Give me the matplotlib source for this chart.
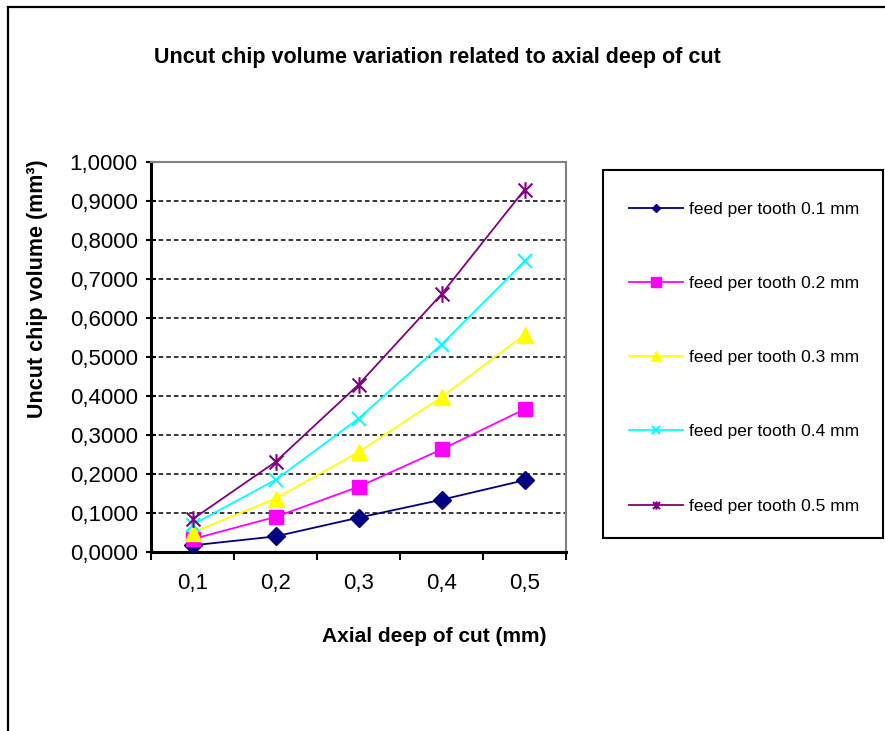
import matplotlib
matplotlib.use('Agg')
import matplotlib.pyplot as plt
from matplotlib.path import Path
from matplotlib.patches import Rectangle

plt.rcParams['font.family'] = ['Liberation Sans', 'DejaVu Sans']

# axial depth of cut (mm) and uncut chip volume (mm3) per feed per tooth
depth_labels = ['0,1', '0,2', '0,3', '0,4', '0,5']
feed_01 = [0.017, 0.040, 0.088, 0.134, 0.184]
feed_02 = [0.033, 0.090, 0.167, 0.263, 0.366]
feed_03 = [0.050, 0.137, 0.256, 0.397, 0.557]
feed_04 = [0.070, 0.185, 0.342, 0.532, 0.745]
feed_05 = [0.084, 0.231, 0.429, 0.661, 0.929]
series_names = ['feed per tooth 0.1 mm', 'feed per tooth 0.2 mm', 'feed per tooth 0.3 mm',
                'feed per tooth 0.4 mm', 'feed per tooth 0.5 mm']
y_ticks = [0.0, 0.1, 0.2, 0.3, 0.4, 0.5, 0.6, 0.7, 0.8, 0.9, 1.0]

# asterisk marker: x plus a vertical stroke
star = Path([(-0.5, -0.5), (0.5, 0.5), (-0.5, 0.5), (0.5, -0.5), (0, -0.6), (0, 0.6)],
            [Path.MOVETO, Path.LINETO, Path.MOVETO, Path.LINETO, Path.MOVETO, Path.LINETO])

W, H = 885, 731
fig = plt.figure(figsize=(W / 100, H / 100), dpi=100)
ax = fig.add_axes([151 / W, 1 - 552 / H, (566 - 151) / W, (552 - 162) / H])

# outer chart frame
fig.patches.append(Rectangle((8 / W, -0.1), 1.2, 1.1 - 7 / H, transform=fig.transFigure,
                             fill=False, edgecolor='black', linewidth=1.6, zorder=0))
# legend frame
fig.patches.append(Rectangle((603 / W, 1 - 538 / H), (883 - 603) / W, (538 - 170) / H,
                             transform=fig.transFigure, fill=False, edgecolor='black',
                             linewidth=1.5, zorder=0))

x = list(range(len(depth_labels)))
styles = [
    dict(color='#000080', marker='D', ms=9.5, lw=1.3, mec='#000080'),
    dict(color='#FF00FF', marker='s', ms=10.5, lw=1.3, mec='#FF00FF'),
    dict(color='#FFFF00', marker='^', ms=12, lw=1.3, mec='#FFFF00'),
    dict(color='#00FFFF', marker='x', ms=10.5, lw=1.3, mew=1.5),
    dict(color='#800080', marker=star, ms=12, lw=1.3, mew=1.5),
]
for vals, name, st in zip([feed_01, feed_02, feed_03, feed_04, feed_05], series_names, styles):
    ax.plot(x, vals, label=name, zorder=3, **st)

ax.set_xlim(-0.5, 4.5)
ax.set_ylim(0, 1.0)

# dashed horizontal gridlines
for yv in y_ticks[1:-1]:
    ax.axhline(yv, color='black', lw=1.1, dashes=(3, 2), zorder=1)

ax.set_yticks(y_ticks)
ax.set_yticklabels([('%.4f' % v).replace('.', ',') for v in y_ticks], fontsize=16)
ax.set_xticks(x)
ax.set_xticklabels(depth_labels, fontsize=16)
ax.set_xticks([i - 0.5 for i in range(len(depth_labels) + 1)], minor=True)
ax.tick_params(axis='x', which='major', length=0, pad=15)
ax.tick_params(axis='x', which='minor', direction='out', length=6, width=1.5)
ax.tick_params(axis='y', direction='inout', length=7, width=1.5, pad=6)

for side in ['left', 'bottom']:
    ax.spines[side].set_linewidth(2.2)
    ax.spines[side].set_color('black')
for side in ['top', 'right']:
    ax.spines[side].set_linewidth(1.5)
    ax.spines[side].set_color('#808080')

fig.text(437 / W, 1 - 57 / H, 'Uncut chip volume variation related to axial deep of cut',
         ha='center', va='center', fontsize=15.5, fontweight='bold')
fig.text(434 / W, 1 - 636 / H, 'Axial deep of cut (mm)', ha='center', va='center',
         fontsize=15, fontweight='bold')
fig.text(38 / W, 1 - 289 / H, 'Uncut chip volume (mm³)', ha='center', va='center',
         rotation=90, fontsize=15.5, fontweight='bold')

leg = ax.legend(loc='upper left', bbox_to_anchor=(601 / W, 1 - 174 / H), bbox_transform=fig.transFigure,
                borderaxespad=0, fontsize=12.5, frameon=False, borderpad=1.6, labelspacing=3.4,
                handlelength=3.1, handletextpad=0.35)
for h, s in zip(leg.legend_handles, [4.5, 6.5, 7, 5.5, 6]):
    h.set_markersize(s)

fig.savefig('out.png', dpi=100)
